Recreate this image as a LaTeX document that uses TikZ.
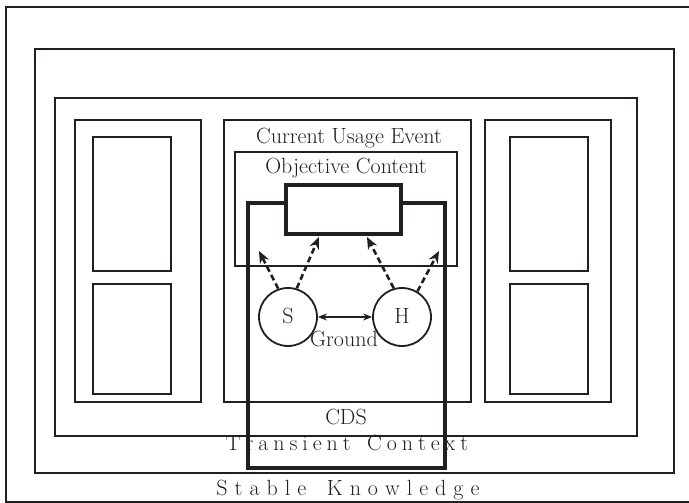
\documentclass[tikz,border=0pt]{standalone}
\usetikzlibrary{arrows.meta}
\definecolor{ink}{HTML}{231F20}
\newcommand\lspaced[2]{\def\lsgap{#1}\lsloop#2\relax}
\def\lsloop#1{\ifx#1\relax\else#1\hspace{\lsgap}\expandafter\lsloop\fi}
\begin{document}
\begin{tikzpicture}[x=1pt,y=-1pt,
  box/.style={draw=ink,line width=1.8pt,rectangle,anchor=north west,inner sep=0pt,outer sep=0pt},
  heavybox/.style={draw=ink,line width=4.6pt,rectangle,anchor=north west,inner sep=0pt,outer sep=0pt},
  lbl/.style={font=\fontsize{22}{24}\selectfont,text=ink,inner sep=0pt,anchor=base},
  person/.style={circle,draw=ink,line width=1.8pt,fill=white,minimum size=58pt,inner sep=0pt},
  focusarrow/.style={draw=ink,line width=2.6pt,dash pattern=on 6pt off 3.5pt,-{Stealth[length=12pt,width=10pt]}},
  groundarrow/.style={draw=ink,line width=1.2pt,{Stealth[length=9pt,width=7pt]}-{Stealth[length=9pt,width=7pt]}}]
\useasboundingbox (0,0) rectangle (689,503);
% nested frames
\node[box,minimum width=690pt,minimum height=495pt] (stable) at (6,7) {};
\node[box,minimum width=639pt,minimum height=424pt] (transient) at (35,49) {};
\node[box,minimum width=582pt,minimum height=338pt] (inner) at (55,98) {};
% left panel
\node[box,minimum width=126pt,minimum height=282pt] (lp) at (75,120) {};
\node[box,minimum width=78pt,minimum height=134pt] (lp1) at (93,137) {};
\node[box,minimum width=78pt,minimum height=110pt] (lp2) at (93,284) {};
% right panel
\node[box,minimum width=126pt,minimum height=282pt] (rp) at (485,120) {};
\node[box,minimum width=78pt,minimum height=134pt] (rp1) at (510,137) {};
\node[box,minimum width=78pt,minimum height=110pt] (rp2) at (510,284) {};
% centre
\node[box,minimum width=247pt,minimum height=282pt] (cue) at (224,120) {};
\node[box,minimum width=222pt,minimum height=114pt] (obj) at (235,152) {};
\node[lbl] (cuelbl) at (349,143) {Current Usage Event};
\node[lbl] (objlbl) at (346,173) {Objective Content};
% labels of outer frames
\node[lbl] (translbl) at (347,450) {\lspaced{4.95pt}{Transient~Context}};
\node[lbl] (stablelbl) at (348,495) {\lspaced{7pt}{Stable~Knowledge}};
% CDS
\node[heavybox,minimum width=197pt,minimum height=265pt] (cds) at (248,203) {};
\node[heavybox,fill=white,minimum width=115pt,minimum height=49pt] (focus) at (286,185) {};
\node[lbl] (cdslbl) at (346,424) {CDS};
% speaker and hearer
\node[person] (S) at (288,317) {};
\node[person] (H) at (402,317) {};
\node[lbl] (Slbl) at (288,323) {S};
\node[lbl] (Hlbl) at (402,323) {H};
\node[lbl] (groundlbl) at (344,346) {Ground};
\draw[groundarrow] (S.east) -- (H.west);
% dashed arrows
\coordinate (sa) at (259,251);
\coordinate (sb) at (319,237);
\coordinate (ha) at (367,237);
\coordinate (hb) at (439,251);
\draw[focusarrow] (S.109) -- (sa);
\draw[focusarrow] (S.73) -- (sb);
\draw[focusarrow] (H.106) -- (ha);
\draw[focusarrow] (H.59) -- (hb);
\end{tikzpicture}
\end{document}
